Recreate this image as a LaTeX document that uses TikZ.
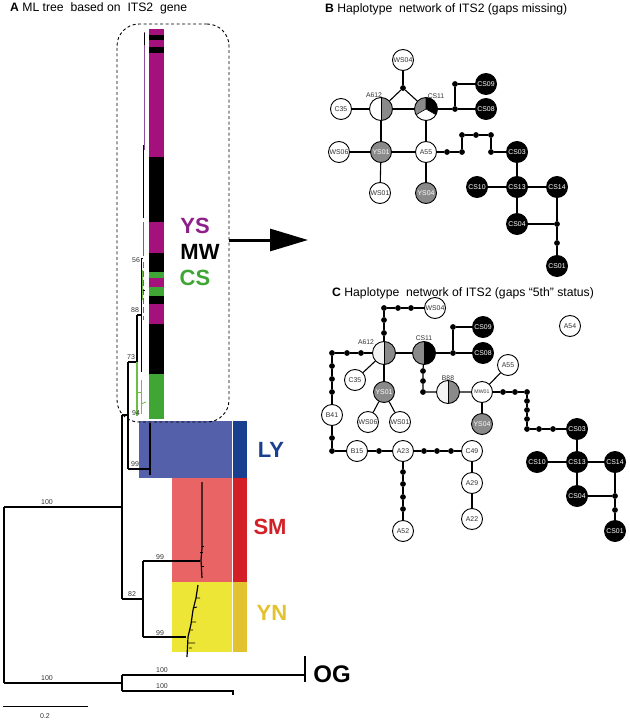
\documentclass[tikz,border=0pt]{standalone}
\usepackage{fontspec}
\setmainfont{Liberation Sans}
\usetikzlibrary{arrows.meta}
\definecolor{ysmag}{HTML}{A4107C}
\definecolor{ystext}{HTML}{8E1F8A}
\definecolor{csgreen}{HTML}{3FA535}
\definecolor{lyblock}{HTML}{5560AA}
\definecolor{lybar}{HTML}{1B3F8F}
\definecolor{smblock}{HTML}{E96565}
\definecolor{smbar}{HTML}{D32027}
\definecolor{ynblock}{HTML}{EDE637}
\definecolor{ynbar}{HTML}{E2C22E}
\definecolor{hgray}{HTML}{8A8A8A}
\definecolor{hlight}{HTML}{F3F3F3}
\definecolor{treepurple}{HTML}{8E4E9A}
\definecolor{treegreen}{HTML}{6DBE45}
\begin{document}
\begin{tikzpicture}[x=1pt,y=-1pt,font=\fontsize{7}{8}\selectfont,
  hap/.style={circle,draw=black,line width=0.9pt,minimum size=21pt,inner sep=0pt,fill=white,text=black!80,font=\fontsize{6.9}{6.9}\selectfont},
  hapk/.style={hap,fill=black,text=white},
  hapg/.style={hap,fill=hgray,text=white},
  mv/.style={circle,fill=black,minimum size=5.8pt,inner sep=0pt},
  edge/.style={line width=1.1pt},
  halfw/.style={hap,minimum size=23pt,path picture={
     \fill[hgray] (path picture bounding box.north) rectangle (path picture bounding box.south east);
     \draw[line width=0.8pt] (path picture bounding box.north) -- (path picture bounding box.south);}},
  halfl/.style={halfw,fill=hlight},
  halfgk/.style={hap,minimum size=23pt,fill=hgray,path picture={
     \fill[black] (path picture bounding box.north) rectangle (path picture bounding box.south east);}},
  pieb/.style={hap,minimum size=23pt,fill=hgray,path picture={
     \fill[black] (path picture bounding box.center) -- +(90:30pt) -- +(30:35pt) -- +(-30:30pt) -- cycle;
     \fill[white] (path picture bounding box.center) -- +(-30:30pt) -- +(-90:35pt) -- +(-150:30pt) -- cycle;
     \draw[line width=0.6pt] (path picture bounding box.center) -- +(90:30pt)
        (path picture bounding box.center) -- +(-30:30pt)
        (path picture bounding box.center) -- +(-150:30pt);}},
  br/.style={line width=1.2pt},
  sup/.style={font=\fontsize{7}{8}\selectfont,text=black!80,inner sep=0pt},
  clade/.style={font=\fontsize{22}{24}\selectfont\bfseries,inner sep=0pt},
  ptitle/.style={anchor=west,inner sep=0pt,font=\fontsize{12.2}{14}\selectfont}
]
\useasboundingbox (0,0) rectangle (629,722);

% ---------------- Panel A ----------------
\node[ptitle] (tA) at (10,8) {\textbf{A} ML tree\ \ based on\ \ ITS2\ \ gene};

% coloured blocks
\fill[lyblock] (139,421) rectangle (232,478);
\fill[lybar] (233,421) rectangle (247,478);
\fill[smblock] (172,478) rectangle (232,582);
\fill[smbar] (233,478) rectangle (247,582);
\fill[ynblock] (172,582) rectangle (232,652);
\fill[ynbar] (233,582) rectangle (247,652);

% stripe bar
\foreach \a/\b/\c in {29/35/ysmag,35/40/black,40/47/ysmag,47/53/black,53/157/ysmag,157/222/black,
  222/253/ysmag,253/272/black,272/278/csgreen,278/287/ysmag,287/296/csgreen,296/304/black,
  304/324/ysmag,324/374/black,374/419/csgreen}
  \fill[\c] (149,\a) rectangle (164,\b);

% tree
\draw[br] (4,507) -- (4,683);
\draw[br] (4,507) -- (122,507);
\draw[br] (4,683) -- (122,683);
\draw[br] (122,415) -- (122,599);
\draw[br] (122,415) -- (128,415);
\draw[br] (128,362) -- (128,469);
\draw[br] (128,362) -- (137,362);
\draw[br] (137,315) -- (137,362);
\draw[br] (137,315) -- (141,315);
\draw[line width=0.9pt] (141,258) -- (141,372);
\draw[line width=0.8pt] (141,258) -- (143,258);
\draw[treepurple,line width=0.9pt] (144,32) -- (144,150);
\draw[line width=0.7pt] (143,145) -- (143,218);
\draw[line width=0.6pt] (144,33) -- (144,45);
\draw[treepurple,line width=0.9pt] (143,222) -- (143,256);
\draw[treepurple,line width=0.9pt,dash pattern=on 6pt off 3pt] (143,262) -- (143,320);
\draw[line width=0.7pt] (142,290) -- (145,290);
\draw[treegreen,line width=0.9pt] (142,270) -- (142,300);
\draw[treegreen,br] (137,362) -- (137,416);
\draw[treegreen,line width=0.9pt] (137,392) -- (141,392);
\draw[treegreen,line width=0.9pt] (141,380) -- (141,414);
\draw[treegreen,line width=0.9pt] (141,404) -- (146,402);
\draw[br] (128,469) -- (150,469);
\draw[br] (150,423) -- (150,475);
\draw[br] (122,599) -- (143,599);
\draw[br] (143,561) -- (143,637);
\draw[br] (143,561) -- (200,561);
\draw[br] (143,637) -- (186,637);
\draw[br] (202,482) -- (202,548) -- (201,560) -- (202,578);
\draw[line width=0.9pt] (201,546) -- (204,546) (202,566) -- (204,566) (200,552) -- (203,552);
\draw[br] (198,585) -- (196,598) -- (193,610) -- (191,624) -- (188,637) -- (187,657);
\draw[line width=0.9pt] (196,598) -- (200,598) (193,608) -- (197,607) (191,622) -- (196,622)
  (190,630) -- (193,630) (188,643) -- (195,643) (189,648) -- (192,648);
% outgroup
\draw[br] (122,675) -- (122,691);
\draw[br] (122,675) -- (305,675);
\draw[br] (305,656) -- (305,682);
\draw[line width=2pt] (305,656) -- (305,664);
\draw[br] (122,691) -- (233,691) -- (233,695);

% support values
\node[sup] (s1) at (47,502) {100};
\node[sup] (s2) at (47,678) {100};
\node[sup] (s3) at (162,670) {100};
\node[sup] (s4) at (162,686) {100};
\node[sup] (s5) at (160,557) {99};
\node[sup] (s6) at (160,633) {99};
\node[sup] (s7) at (132,594) {82};
\node[sup] (s8) at (135,464) {99};
\node[sup] (s9) at (136,413) {94};
\node[sup] (s10) at (131,357) {73};
\node[sup] (s11) at (135,310) {88};
\node[sup] (s12) at (136,260) {56};

% clade labels
\node[clade,text=ystext] (lYS) at (195,226) {YS};
\node[clade,text=black] (lMW) at (200,252) {MW};
\node[clade,text=csgreen] (lCS) at (195,278) {CS};
\node[clade,text=lybar] (lLY) at (271,450) {LY};
\node[clade,text=smbar] (lSM) at (270,527) {SM};
\node[clade,text=ynbar] (lYN) at (272,613) {YN};
\node[clade,font=\fontsize{24}{26}\selectfont\bfseries] (lOG) at (332,674) {OG};

% scale bar
\draw[line width=0.8pt] (3,706) -- (88,706);
\node[sup] (scale) at (45,716) {0.2};

% dashed clade box and arrow
\node[draw,dash pattern=on 3pt off 2.5pt,line width=0.9pt,rounded corners=22pt,
  minimum width=112pt,minimum height=398pt,inner sep=0pt] (clbox) at (173,223) {};
\coordinate (arrtip) at (308,240);
\draw[line width=3pt,-{Triangle[length=38pt,width=22pt]}] (clbox.east |- arrtip) -- (arrtip);

% ---------------- Panel B ----------------
\node[ptitle] (tB) at (325,9) {\textbf{B} Haplotype\ \ network of ITS2 (gaps missing)};

\node[hap] (bWS04) at (403,60) {WS04};
\node[mv] (bm1) at (403,88) {};
\node[halfw] (bA612) at (381,109) {};
\node[pieb] (bCS11) at (426,109) {};
\node[sup,font=\fontsize{6.8}{7}\selectfont] (lbA612) at (374,95) {A612};
\node[sup,font=\fontsize{6.8}{7}\selectfont] (lbCS11) at (436,96) {CS11};
\node[hap] (bC35) at (341,109) {C35};
\node[mv] (bm2) at (455,109) {};
\node[mv] (bm3) at (455,84) {};
\node[hapk] (bCS09) at (486,84) {CS09};
\node[hapk] (bCS08) at (486,109) {CS08};
\node[hap] (bWS06) at (339,152) {WS06};
\node[hapg] (bYS01) at (381,152) {YS01};
\node[hap] (bA55) at (426,152) {A55};
\node[mv] (bm4) at (447,152) {};
\node[mv] (bm5) at (462,152) {};
\node[mv] (bm6) at (462,135) {};
\node[mv] (bm7) at (476,135) {};
\node[mv] (bm8) at (491,135) {};
\node[mv] (bm9) at (491,152) {};
\node[hapk] (bCS03) at (517,152) {CS03};
\node[hap] (bWS01) at (380,193) {WS01};
\node[hapg] (bYS04) at (426,193) {YS04};
\node[hapk] (bCS10) at (477,187) {CS10};
\node[hapk] (bCS13) at (517,187) {CS13};
\node[hapk] (bCS14) at (557,187) {CS14};
\node[hapk] (bCS04) at (517,224) {CS04};
\node[mv] (bm10) at (557,224) {};
\node[mv] (bm11) at (557,243) {};
\node[hapk] (bCS01) at (557,266) {CS01};

\draw[edge] (bWS04) -- (bm1);
\draw[edge] (bm1) -- (bA612);
\draw[edge] (bm1) -- (bCS11);
\draw[edge] (bC35) -- (bA612) -- (bCS11) -- (bm2) -- (bCS08);
\draw[edge] (bm2) -- (bm3) -- (bCS09);
\draw[edge] (bA612) -- (bYS01);
\draw[edge] (bCS11) -- (bA55);
\draw[edge] (bWS06) -- (bYS01) -- (bA55) -- (bm4) -- (bm5) -- (bm6) -- (bm7) -- (bm8) -- (bm9) -- (bCS03);
\draw[edge] (bYS01) -- (bWS01);
\draw[edge] (bA55) -- (bYS04);
\draw[edge] (bCS03) -- (bCS13);
\draw[edge] (bCS10) -- (bCS13) -- (bCS14);
\draw[edge] (bCS13) -- (bCS04) -- (bm10);
\draw[edge] (bCS14) -- (bm10) -- (bm11) -- (bCS01);

% ---------------- Panel C ----------------
\node[ptitle] (tC) at (332,293) {\textbf{C} Haplotype\ \ network of ITS2 (gaps \textquotedblleft5th\textquotedblright\ status)};

\node[hap] (cWS04) at (435,308) {WS04};
\node[mv] (cm1) at (384,308) {};
\node[mv] (cm2) at (398,308) {};
\node[mv] (cm3) at (411,308) {};
\node[mv] (cm4) at (384,320) {};
\node[mv] (cm5) at (384,333) {};
\node[halfl] (cA612) at (384,353) {};
\node[halfgk] (cCS11) at (424,353) {};
\node[sup,font=\fontsize{6.8}{7}\selectfont] (lcA612) at (366,342) {A612};
\node[sup,font=\fontsize{6.8}{7}\selectfont] (lcCS11) at (424,338) {CS11};
\node[mv] (cm6) at (453,353) {};
\node[mv] (cm7) at (453,327) {};
\node[hapk] (cCS09) at (483,327) {CS09};
\node[hapk] (cCS08) at (483,353) {CS08};
\node[hap] (cA54) at (570,326) {A54};
\node[mv] (cm8) at (361,353) {};
\node[mv] (cm9) at (347,353) {};
\node[mv] (cm10) at (332,353) {};
\node[mv] (cm11) at (332,366) {};
\node[mv] (cm12) at (332,379) {};
\node[mv] (cm13) at (332,392) {};
\node[hap] (cB41) at (332,415) {B41};
\node[hap] (cC35) at (355,380) {C35};
\node[hapg] (cYS01) at (384,392) {YS01};
\node[hap] (cWS06) at (368,422) {WS06};
\node[hap] (cWS01) at (400,422) {WS01};
\node[mv] (cm14) at (423,371) {};
\node[mv] (cm15) at (423,381) {};
\node[mv] (cm16) at (423,392) {};
\node[halfl] (cB88) at (448,392) {};
\node[sup,font=\fontsize{6.8}{7}\selectfont] (lcB88) at (448,378) {B88};
\node[hap,font=\fontsize{5.2}{5.2}\selectfont] (cMW01) at (482,392) {MW01};
\node[hap] (cA55) at (508,365) {A55};
\node[hapg] (cYS04) at (482,424) {YS04};
\node[mv] (cm17) at (503,392) {};
\node[mv] (cm18) at (515,392) {};
\node[mv] (cm19) at (527,392) {};
\node[mv] (cm20) at (527,401) {};
\node[mv] (cm21) at (527,410) {};
\node[mv] (cm22) at (527,419) {};
\node[mv] (cm23) at (527,429) {};
\node[mv] (cm24) at (539,429) {};
\node[mv] (cm25) at (553,429) {};
\node[hapk] (cCS03) at (577,429) {CS03};
\node[hapk] (cCS10) at (537,462) {CS10};
\node[hapk] (cCS13) at (577,462) {CS13};
\node[hapk] (cCS14) at (615,462) {CS14};
\node[hapk] (cCS04) at (577,496) {CS04};
\node[mv] (cm26) at (615,496) {};
\node[mv] (cm27) at (615,510) {};
\node[hapk] (cCS01) at (615,531) {CS01};
\node[mv] (cm28) at (332,438) {};
\node[mv] (cm29) at (332,451) {};
\node[hap] (cB15) at (357,451) {B15};
\node[mv] (cm30) at (379,451) {};
\node[hap] (cA23) at (403,451) {A23};
\node[mv] (cm31) at (424,451) {};
\node[mv] (cm32) at (437,451) {};
\node[mv] (cm33) at (451,451) {};
\node[hap] (cC49) at (472,451) {C49};
\node[hap] (cA29) at (472,483) {A29};
\node[hap] (cA22) at (472,519) {A22};
\node[mv] (cm34) at (403,472) {};
\node[mv] (cm35) at (403,484) {};
\node[mv] (cm36) at (403,497) {};
\node[mv] (cm37) at (403,509) {};
\node[hap] (cA52) at (403,531) {A52};

\draw[edge] (cWS04) -- (cm3) -- (cm2) -- (cm1) -- (cm4) -- (cm5) -- (cA612);
\draw[edge] (cA612) -- (cCS11) -- (cm6) -- (cCS08);
\draw[edge] (cm6) -- (cm7) -- (cCS09);
\draw[edge] (cA612) -- (cm8) -- (cm9) -- (cm10) -- (cm11) -- (cm12) -- (cm13) -- (cB41);
\draw[edge] (cA612) -- (cC35);
\draw[edge] (cA612) -- (cYS01);
\draw[edge] (cYS01) -- (cWS06);
\draw[edge] (cYS01) -- (cWS01);
\draw[edge] (cCS11) -- (cm14) -- (cm15) -- (cm16) -- (cB88) -- (cMW01);
\draw[edge] (cMW01) -- (cA55);
\draw[edge] (cMW01) -- (cYS04);
\draw[edge] (cMW01) -- (cm17) -- (cm18) -- (cm19) -- (cm20) -- (cm21) -- (cm22) -- (cm23) -- (cm24) -- (cm25) -- (cCS03);
\draw[edge] (cCS03) -- (cCS13);
\draw[edge] (cCS10) -- (cCS13) -- (cCS14);
\draw[edge] (cCS13) -- (cCS04) -- (cm26);
\draw[edge] (cCS14) -- (cm26) -- (cm27) -- (cCS01);
\draw[edge] (cB41) -- (cm28) -- (cm29) -- (cB15) -- (cm30) -- (cA23) -- (cm31) -- (cm32) -- (cm33) -- (cC49) -- (cA29) -- (cA22);
\draw[edge] (cA23) -- (cm34) -- (cm35) -- (cm36) -- (cm37) -- (cA52);
\end{tikzpicture}
\end{document}
